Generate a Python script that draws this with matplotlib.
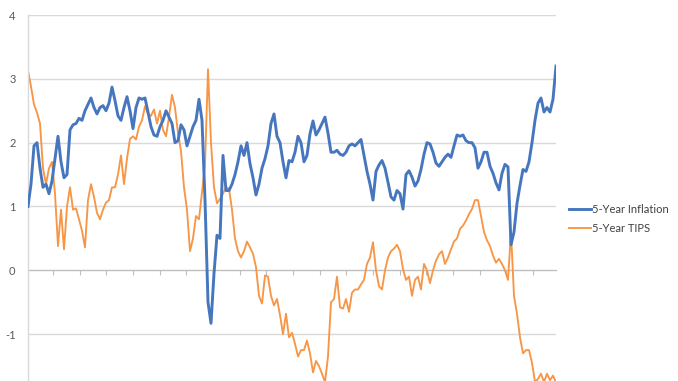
import numpy as np
import matplotlib
matplotlib.use("Agg")
import matplotlib.pyplot as plt

plt.rcParams['font.family'] = ['Lato', 'DejaVu Sans']

# decimal-year positions of the samples (roughly 2002 .. late 2021)
start_year = 2002.06
end_year = 2021.86

inflation_5y = [
    1.0, 1.35, 1.95, 2.0, 1.6, 1.3, 1.35, 1.2, 1.4, 1.75,
    2.1, 1.7, 1.45, 1.5, 2.2, 2.28, 2.3, 2.38, 2.35, 2.5,
    2.6, 2.7, 2.55, 2.45, 2.55, 2.58, 2.5, 2.62, 2.87, 2.66,
    2.42, 2.35, 2.55, 2.72, 2.5, 2.22, 2.55, 2.7, 2.68, 2.7,
    2.48, 2.25, 2.12, 2.1, 2.25, 2.35, 2.5, 2.4, 2.3, 2.0,
    2.03, 2.28, 2.2, 1.95, 2.1, 2.25, 2.35, 2.68, 2.35, 1.1,
    -0.5, -0.83, -0.05, 0.55, 0.5, 1.8, 1.25, 1.25, 1.35, 1.5,
    1.7, 1.95, 1.8, 2.0, 1.67, 1.45, 1.18, 1.35, 1.6, 1.75,
    1.95, 2.3, 2.45, 2.1, 2.0, 1.7, 1.45, 1.72, 1.7, 1.85,
    2.1, 2.0, 1.7, 1.8, 2.14, 2.34, 2.12, 2.2, 2.3, 2.4,
    2.15, 1.85, 1.85, 1.88, 1.82, 1.8, 1.85, 1.95, 1.98, 1.95,
    2.0, 2.05, 1.8, 1.55, 1.35, 1.1, 1.55, 1.65, 1.72, 1.6,
    1.38, 1.15, 1.1, 1.25, 1.2, 0.96, 1.5, 1.56, 1.46, 1.32,
    1.4, 1.58, 1.82, 2.0, 1.98, 1.85, 1.68, 1.63, 1.7, 1.77,
    1.82, 1.77, 1.95, 2.12, 2.1, 2.12, 2.03, 2.0, 2.0, 1.92,
    1.6, 1.7, 1.85, 1.85, 1.63, 1.52, 1.37, 1.26, 1.52, 1.66,
    1.62, 0.4, 0.6, 1.05, 1.33, 1.58, 1.55, 1.7, 2.0, 2.35,
    2.62, 2.7, 2.48, 2.55, 2.48, 2.68, 3.2,
]

tips_5y = [
    3.13, 2.88, 2.6, 2.47, 2.3, 1.6, 1.35, 1.6, 1.7, 1.2,
    0.38, 0.95, 0.33, 1.0, 1.3, 0.95, 0.97, 0.8, 0.62, 0.36,
    1.1, 1.35, 1.15, 0.9, 0.8, 0.95, 1.06, 1.1, 1.3, 1.3,
    1.5, 1.8, 1.35, 1.75, 2.06, 2.1, 2.05, 2.25, 2.35, 2.57,
    2.45, 2.42, 2.52, 2.3, 2.5, 2.2, 2.1, 2.4, 2.75, 2.55,
    2.15, 1.87, 1.3, 0.95, 0.3, 0.5, 0.85, 0.8, 1.22, 1.65,
    3.15, 2.0, 1.3, 1.05, 1.12, 1.2, 1.3, 1.28, 0.95, 0.5,
    0.3, 0.2, 0.3, 0.45, 0.36, 0.26, 0.05, -0.4, -0.52, -0.08,
    -0.1, -0.4, -0.55, -0.45, -0.7, -1.0, -0.68, -1.05, -0.98, -1.15,
    -1.35, -1.25, -1.25, -1.1, -1.3, -1.6, -1.42, -1.5, -1.62, -1.75,
    -1.35, -0.5, -0.45, -0.1, -0.58, -0.6, -0.45, -0.65, -0.35, -0.3,
    -0.3, -0.22, -0.15, 0.1, 0.2, 0.44, 0.0, -0.25, -0.3, 0.0,
    0.2, 0.3, 0.34, 0.4, 0.3, 0.02, -0.15, -0.1, -0.4, -0.15,
    -0.1, -0.3, 0.1, 0.0, -0.2, 0.0, 0.15, 0.25, 0.3, 0.1,
    0.2, 0.33, 0.45, 0.5, 0.65, 0.7, 0.78, 0.88, 0.96, 1.1,
    1.1, 0.85, 0.6, 0.47, 0.38, 0.23, 0.12, 0.18, 0.1, 0.0,
    -0.15, 0.6, -0.4, -0.68, -1.05, -1.3, -1.25, -1.25, -1.45, -1.75,
    -1.7, -1.62, -1.75, -1.62, -1.72, -1.65, -1.75,
]

series_names = ["5-Year Inflation", "5-Year TIPS"]
series_colors = ["#4677BE", "#F79646"]
y_ticks = [-1, 0, 1, 2, 3, 4]
x_tick_years = list(range(2003, 2022))

W, H = 678, 381
fig = plt.figure(figsize=(W / 100, H / 100), dpi=100)
ax = fig.add_axes([28 / W, 0, (556 - 28) / W, (381 - 15) / H])

x = np.linspace(start_year, end_year, len(inflation_5y))
ax.plot(x, inflation_5y, color=series_colors[0], lw=2.1, label=series_names[0], zorder=3,
        solid_joinstyle='round')
ax.plot(x, tips_5y, color=series_colors[1], lw=1.35, label=series_names[1], zorder=2,
        solid_joinstyle='round')

ax.set_xlim(start_year, end_year)
ax.set_ylim(-1.734, 4)

ax.set_yticks(y_ticks)
ax.set_yticklabels([str(v) for v in y_ticks], fontsize=8, color="#595959")
ax.tick_params(axis='y', length=0, pad=9)
for v in y_ticks:
    if v != 0:
        ax.axhline(v, color="#D9D9D9", lw=1.0, zorder=0)

ax.set_xticks(x_tick_years)
ax.set_xticklabels([])
ax.tick_params(axis='x', direction='out', length=3.5, width=0.8, color="#BFBFBF")

for s in ['top', 'right']:
    ax.spines[s].set_visible(False)
ax.spines['bottom'].set_position(('data', 0))
ax.spines['bottom'].set_color("#BFBFBF")
ax.spines['bottom'].set_linewidth(1.0)
ax.spines['bottom'].set_zorder(1)
ax.spines['left'].set_color("#D9D9D9")
ax.spines['left'].set_linewidth(1.0)

fig.legend(loc='center left', bbox_to_anchor=(565 / W, 1 - 219 / H), frameon=False,
           fontsize=8, handlelength=1.9, handletextpad=0.15, labelspacing=0.75,
           labelcolor="#404040", borderaxespad=0)

fig.savefig("out.png", dpi=100)
